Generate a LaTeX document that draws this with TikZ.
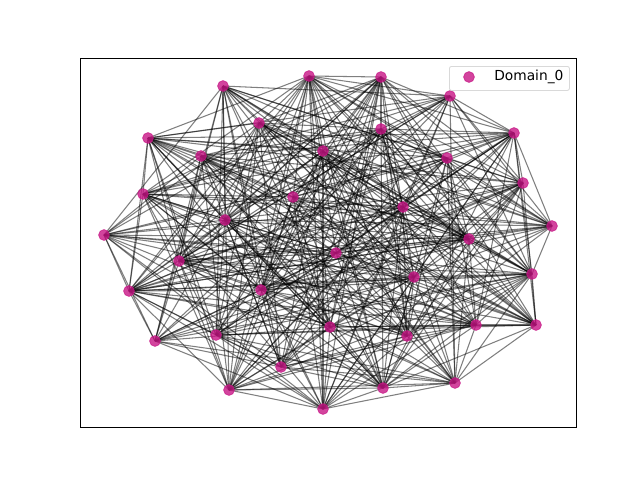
\documentclass[tikz,border=0pt]{standalone}
\usepackage{fontspec}
\setsansfont{DejaVu Sans}
\usetikzlibrary{backgrounds}

\definecolor{domaincol}{HTML}{C71585}
\tikzset{
  vtx/.style={circle, fill=domaincol, fill opacity=0.8, draw=domaincol, draw opacity=0.8,
              line width=0.5pt, minimum size=0.27cm, inner sep=0pt},
  edg/.style={draw=black, draw opacity=0.5, line width=0.75pt},
  legendbox/.style={draw=black!15, fill=white, fill opacity=0.8, text opacity=1,
                    rounded corners=1.5pt, line width=0.6pt}
}

\begin{document}
\begin{tikzpicture}[x=0.025cm, y=-0.025cm]

                \useasboundingbox (0,0) rectangle (640,480);

                \pgfmathsetseed{11}

                \foreach \n/\px/\py in {1/223/86, 2/309/76, 3/381/77, 4/450/96, 5/514/133,
                    6/523/183, 7/552/226, 8/532/274, 9/536/325, 10/455/383, 11/383/388,
                    12/323/409, 13/229/390, 14/155/341, 15/129/291, 16/104/235, 17/143/194,
                    18/148/138, 19/259/123, 20/381/129, 21/323/151, 22/447/158, 23/201/156,
                    24/293/197, 25/403/207, 26/225/220, 27/469/239, 28/336/253, 29/179/261,
                    30/414/277, 31/261/290, 32/476/325, 33/330/327, 34/407/336, 35/216/335,
                    36/281/367}
                    \node[vtx] (v\n) at (\px,\py) {};

                \begin{scope}[on background layer]
                \foreach \i in {1,...,36}{
                  \foreach \j in {1,...,36}{
                    \ifnum\j>\i
                      \pgfmathsetmacro\pick{rnd}
                      \ifdim\pick pt<0.62pt
                        \draw[edg] (v\i.center) -- (v\j.center);
                      \fi
                    \fi
                  }
                }
                \end{scope}

                \node[draw, line width=0.8pt, minimum width=12.4cm, minimum height=9.225cm,
                      anchor=north west, inner sep=0pt] (frame) at (80,58) {};

                \node[legendbox, minimum width=3cm, minimum height=0.6cm, anchor=north west,
                      inner sep=0pt] (legend) at (449,66) {};
                \node[vtx] (legmark) at (469,77) {};
                \node[anchor=west, inner sep=0pt, font=\sffamily\fontsize{9.8}{12}\selectfont]
                      (legtext) at (494,77) {Domain\_0};

\end{tikzpicture}
\end{document}
